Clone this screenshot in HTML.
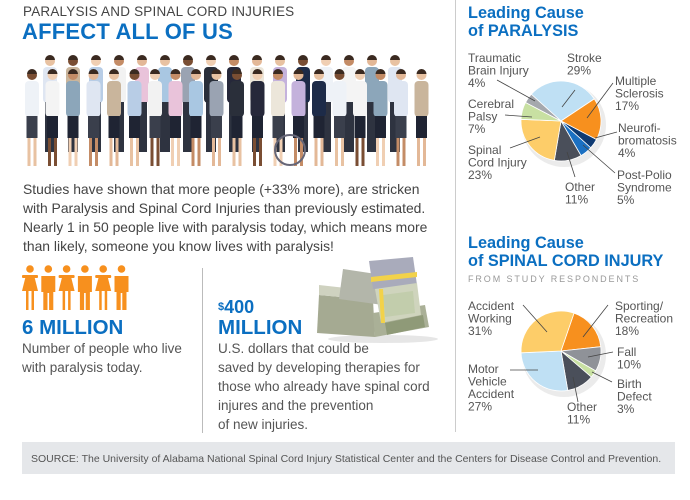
<!DOCTYPE html>
<html><head><meta charset="utf-8">
<style>
*{margin:0;padding:0;box-sizing:border-box}
body{width:690px;height:500px;background:#fff;position:relative;overflow:hidden;font-family:"Liberation Sans",Arial,sans-serif;color:#555}
.a{position:absolute;white-space:nowrap}
.blue{color:#0b6fc1;font-weight:bold}
</style></head><body>
<div class="a" style="left:23px;top:4px;font-size:13.5px;color:#444;letter-spacing:0.2px">PARALYSIS AND SPINAL CORD INJURIES</div>
<div class="a blue" style="left:22px;top:19px;font-size:22px;letter-spacing:0.2px">AFFECT ALL OF US</div>

<svg class="a" style="left:0;top:50px" width="450" height="125" id="crowd"></svg>

<div class="a" style="left:23px;top:180px;font-size:13.9px;line-height:19px;color:#444">Studies have shown that more people (+33% more), are stricken<br>with Paralysis and Spinal Cord Injuries than previously estimated.<br>Nearly 1 in 50 people live with paralysis today, which means more<br>than likely, someone you know lives with paralysis!</div>

<svg class="a" style="left:20px;top:264px" width="115" height="48" id="icons"></svg>
<div class="a blue" style="left:22px;top:316px;font-size:20.5px">6 MILLION</div>
<div class="a" style="left:22px;top:339px;font-size:13.5px;line-height:19px;color:#555">Number of people who live<br>with paralysis today.</div>

<div class="a" style="left:202px;top:268px;width:1px;height:165px;background:#bbb"></div>
<div class="a" style="left:455px;top:0;width:1px;height:432px;background:#ccc"></div>

<div class="a blue" style="left:218px;top:298px;font-size:18px;line-height:19px"><span style="font-size:11px;vertical-align:top">$</span>400</div>
<div class="a blue" style="left:218px;top:316px;font-size:20.5px">MILLION</div>
<svg class="a" style="left:313px;top:255px" width="130" height="92">
<ellipse cx="70" cy="84" rx="55" ry="4" fill="#e6e6e6"/>
<polygon points="6,40 60,45 62,82 4,78" fill="#a5aa92"/>
<polygon points="6,30 60,36 60,45 6,40" fill="#cfd2c0"/>
<polygon points="60,58 112,50 116,72 62,82" fill="#aab097"/>
<polygon points="30,14 70,20 70,50 26,44" fill="#b3b6aa"/>
<polygon points="56,6 100,2 104,30 60,34" fill="#a9abbb"/>
<polygon points="62,34 104,28 108,60 68,68" fill="#cfd4bd"/>
<polygon points="70,40 100,36 102,58 72,62" fill="#c2cdac"/>
<polygon points="58,22 104,17 104,22 58,27" fill="#f2d24a"/>
<polygon points="66,34 70,34 72,68 68,68" fill="#f2d24a"/>
<polygon points="72,68 110,60 112,72 74,80" fill="#8f9a78"/>
</svg>
<div class="a" style="left:218px;top:339px;font-size:13.5px;line-height:19px;color:#555">U.S. dollars that could be<br>saved by developing therapies for<br>those who already have spinal cord<br>injures and the prevention<br>of new injuries.</div>

<div class="a" style="left:22px;top:442px;width:653px;height:32px;background:#e5e7ea"></div>
<div class="a" style="left:31px;top:453px;font-size:10.5px;color:#555">SOURCE: The University of Alabama National Spinal Cord Injury Statistical Center and the Centers for Disease Control and Prevention.</div>

<div class="a blue" style="left:468px;top:4px;font-size:16.3px;line-height:18px">Leading Cause<br>of PARALYSIS</div>
<div class="a blue" style="left:468px;top:234px;font-size:16.3px;line-height:18px">Leading Cause<br>of SPINAL CORD INJURY</div>
<div class="a" style="left:468px;top:274px;font-size:9px;letter-spacing:1.9px;color:#999">FROM STUDY RESPONDENTS</div>

<svg class="a" id="charts" style="left:0;top:0" width="690" height="440"></svg>

<script>
// Paralysis pie data (clockwise from Stroke)
const pCats = ["Stroke","Multiple Sclerosis","Neurofibromatosis","Post-Polio Syndrome","Other","Spinal Cord Injury","Cerebral Palsy","Traumatic Brain Injury"];
const pVals = [29,17,4,5,11,23,7,4];
const pColors = ["#bfe0f4","#f7901e","#0e3a72","#1b70c2","#4a4f5a","#fdcd69","#c8e0a2","#a5a8ad"];
// Spinal cord injury pie data (clockwise from Sporting)
const sCats = ["Sporting/Recreation","Fall","Birth Defect","Other","Motor Vehicle Accident","Accident Working"];
const sVals = [18,10,3,11,27,31];
const sColors = ["#f7901e","#8f9298","#c8e0a2","#4a4f5a","#bfe0f4","#fdcd69"];

const NS="http://www.w3.org/2000/svg";
const svg=document.getElementById('charts');
function el(t,a,p){const e=document.createElementNS(NS,t);for(const k in a)e.setAttribute(k,a[k]);(p||svg).appendChild(e);return e;}
function pie(cx,cy,r,start,vals,colors,cats,name){
  const total=vals.reduce((a,b)=>a+b,0);
  const sh=el('ellipse',{cx:cx+3,cy:cy+4,rx:r+2,ry:r+2,fill:'#ddd',opacity:0.6});
  
  
  let a=start;
  vals.forEach((v,i)=>{
    const sweep=v/total*360;
    const a0=(a-90)*Math.PI/180,a1=(a+sweep-90)*Math.PI/180;
    const x0=cx+r*Math.cos(a0),y0=cy+r*Math.sin(a0),x1=cx+r*Math.cos(a1),y1=cy+r*Math.sin(a1);
    const p=el('path',{d:`M${cx},${cy}L${x0},${y0}A${r},${r} 0 ${sweep>180?1:0} 1 ${x1},${y1}Z`,fill:colors[i],stroke:'#fff','stroke-width':0.8});
    
    
    a+=sweep;
  });
}
pie(561,121,40,-48,pVals,pColors,pCats,'paralysis');
pie(561,351,40,19,sVals,sColors,sCats,'sci');

function label(x,y,lines,name){
  const t=el('text',{x:x,y:y,'font-size':12,fill:'#555','font-family':'Liberation Sans, Arial, sans-serif'});
  
  
  lines.forEach((s,i)=>{const ts=el('tspan',{x:x,dy:i?12.5:0},t);ts.textContent=s;});
}
function leader(x1,y1,x2,y2){const l=el('line',{x1,y1,x2,y2,stroke:'#444','stroke-width':0.8});}
function pct(i,vals){return vals[i]+'%';}
label(468,62,["Traumatic","Brain Injury",pct(7,pVals)],'label-tbi'); leader(497,80,535,101);
label(567,62,["Stroke",pct(0,pVals)],'label-stroke'); leader(575,90,562,107);
label(615,85,["Multiple","Sclerosis",pct(1,pVals)],'label-ms'); leader(613,83,587,118);
label(618,132,["Neurofi-","bromatosis",pct(2,pVals)],'label-neuro'); leader(617,132,595,138);
label(617,179,["Post-Polio","Syndrome",pct(3,pVals)],'label-polio'); leader(615,173,583,145);
label(565,191,["Other",pct(4,pVals)],'label-other-p'); leader(575,177,567,152);
label(468,154,["Spinal","Cord Injury",pct(5,pVals)],'label-sci'); leader(510,148,540,137);
label(468,108,["Cerebral","Palsy",pct(6,pVals)],'label-cp'); leader(505,115,532,117);

label(615,310,["Sporting/","Recreation",pct(0,sVals)],'label-sporting'); leader(608,305,583,337);
label(468,310,["Accident","Working",pct(5,sVals)],'label-working'); leader(523,305,547,332);
label(617,356,["Fall",pct(1,sVals)],'label-fall'); leader(613,352,588,357);
label(617,388,["Birth","Defect",pct(2,sVals)],'label-birth'); leader(612,382,592,372);
label(468,373,["Motor","Vehicle","Accident",pct(4,sVals)],'label-motor'); leader(510,370,538,370);
label(567,411,["Other",pct(3,sVals)],'label-other-s'); leader(578,402,573,377);

// orange people icons
const ic=document.getElementById('icons');
for(let i=0;i<6;i++){
  const x=3+i*18.3, g=el('g',{fill:'#f7901e'},ic);
  
  
  el('circle',{cx:x+7,cy:5,r:3.8},g);
  if(i%2===0){el('path',{d:`M${x+3},11h8l4,16h-4v19h-2.5v-19h-3v19h-2.5v-19h-4z`},g);el('rect',{x:x-1,y:11,width:16,height:3,rx:1},g);}
  else{el('path',{d:`M${x},12h14v16h-2v18h-4.2v-17h-1.6v17h-4.2v-18h-2z`},g);}
}
// crowd photo (decorative silhouettes)
const cr=document.getElementById('crowd');
const shirts=["#dfe6f2","#e9c3da","#26283a","#eef2f7","#c9b59c","#a9c7e2","#ece6da","#f4f4f4","#b8cde6","#9aa3b2","#c4b2dc","#8ca6ba","#f2f2f2","#2a2f3a","#1d2b48"];
const skin=["#e8c2a2","#7a4e33","#f0cfb3","#c48c66","#e3b897"];
for(let r=0;r<2;r++){
  const n=r?20:16, x0=r?32:50, step=r?20.5:23, top=r?18:4;
  for(let i=0;i<n;i++){
    const x=x0+i*step, g=el('g',{},cr);
    
    
    const c=shirts[(i*4+r*3)%shirts.length];
    el('rect',{x:x-7,y:top+13,width:14,height:36,rx:4,fill:c},g);
    if(r){el('rect',{x:x-5.5,y:top+48,width:11,height:22,fill:(i%3)?"#1f2433":"#3a3f4c"},g);
      el('rect',{x:x-4.5,y:top+70,width:3,height:28,fill:skin[i%skin.length]},g);
      el('rect',{x:x+1.5,y:top+70,width:3,height:28,fill:skin[i%skin.length]},g);}
    else{el('rect',{x:x-5,y:top+48,width:10,height:50,fill:"#2e3340"},g);}
    el('circle',{cx:x,cy:top+7,r:5,fill:skin[(i+r)%skin.length]},g);
    el('path',{d:`M${x-5},${top+6}a5,5 0 0 1 10,0z`,fill:"#3b2a20"},g);
  }
}
const w=el('g',{},cr);


el('circle',{cx:290,cy:100,r:15,fill:'none',stroke:'#667','stroke-width':2},w);
</script>
</body></html>
